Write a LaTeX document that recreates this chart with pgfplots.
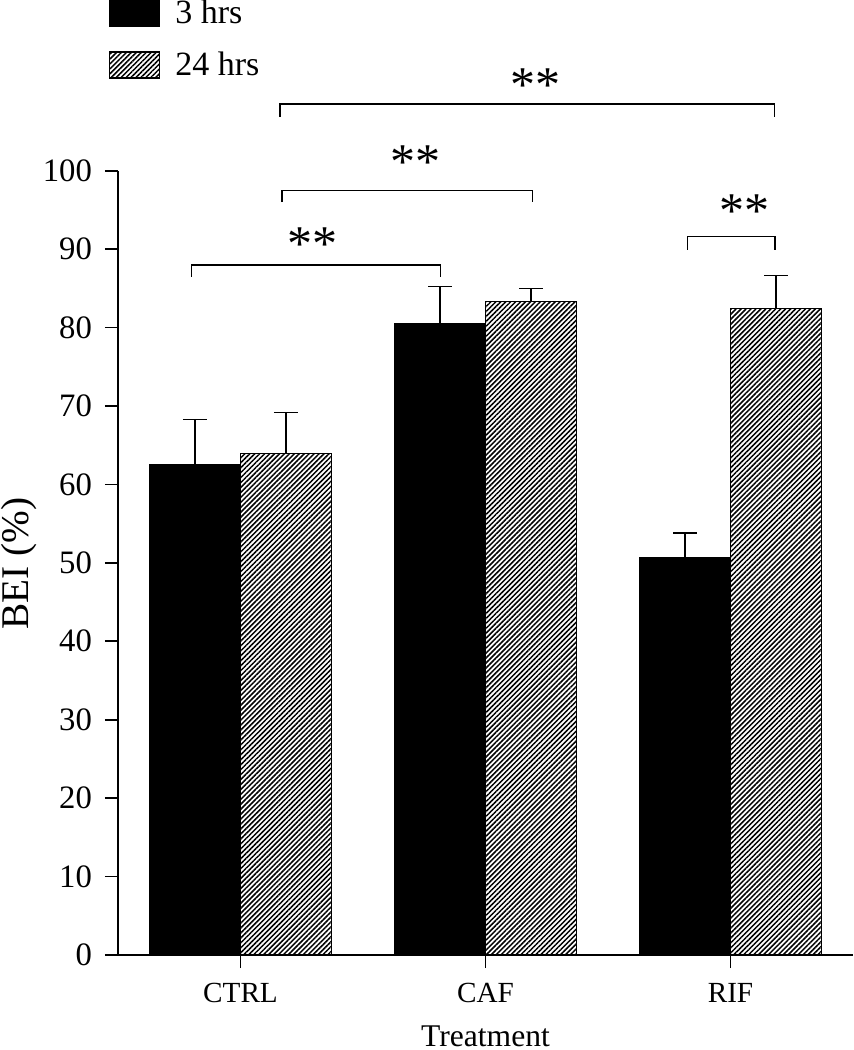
\documentclass[border=0pt]{standalone}
\usepackage{fontspec}
\setmainfont{Liberation Serif}
\usepackage{pgfplots}
\pgfplotsset{compat=1.18}
\usetikzlibrary{patterns.meta}

\tikzset{hatch/.style={pattern={Lines[angle=45,distance=1.75pt,line width=0.75pt]}, pattern color=black}}

\begin{document}
\begin{tikzpicture}
\begin{axis}[
  scale only axis, width=367.5pt, height=392.15pt,
  xmin=-0.5, xmax=2.5, ymin=0, ymax=100,
  ybar, bar width=45.5pt,
  axis x line*=bottom, axis y line*=left,
  axis line style={line width=0.9pt, -},
  xtick={0,1,2}, xticklabels={CTRL,CAF,RIF},
  ytick={0,10,...,100},
  tick align=outside,
  major tick length=6.5pt,
  tick style={line width=0.9pt, black},
  /pgf/number format/assume math mode=true,
  yticklabel style={font=\fontsize{16.35}{18}\selectfont, xshift=-3pt},
  xticklabel style={font=\fontsize{14.6}{17}\selectfont, yshift=-4pt},
  xlabel={Treatment},
  xlabel style={font=\fontsize{15.8}{18}\selectfont, at={(axis description cs:0.5,0)}, anchor=base, yshift=-45.6pt},
  clip=false,
  legend style={at={(axis description cs:-0.0122,1.2177)}, anchor=north west, draw=none, fill=none,
    inner sep=0pt, outer sep=0pt, font=\fontsize{17}{20}\selectfont, row sep=12pt,
    nodes={inner sep=0pt}},
  legend cell align=left,
]
\addlegendimage{legend image code/.code={\draw[fill=black, draw=black, line width=0.65pt] (0pt,-6.5pt) rectangle (24.85pt,6.5pt); \path[draw=none, fill=none, pattern=none] (0pt,0pt) rectangle (32.85pt,0.01pt);}}
\addlegendentry{3 hrs}
\addlegendimage{legend image code/.code={\draw[hatch, draw=black, line width=0.65pt] (0pt,-6.5pt) rectangle (24.85pt,6.5pt); \path[draw=none, fill=none, pattern=none] (0pt,0pt) rectangle (32.85pt,0.01pt);}}
\addlegendentry{24 hrs}

% 3 hrs
\addplot[bar shift=-22.75pt, fill=black, draw=black, line width=0.65pt, forget plot,
  error bars/.cd, y dir=plus, y explicit,
  error bar style={line width=0.7pt, black},
  error mark options={rotate=90, line width=0.7pt, mark size=6pt, black}]
  coordinates {(0,62.5) +- (0,5.8) (1,80.5) +- (0,4.7) (2,50.7) +- (0,3.1)};
% 24 hrs
\addplot[bar shift=22.75pt, hatch, draw=black, line width=0.65pt, forget plot,
  error bars/.cd, y dir=plus, y explicit,
  error bar style={line width=0.7pt, black},
  error mark options={rotate=90, line width=0.7pt, mark size=6pt, black}]
  coordinates {(0,63.9) +- (0,5.3) (1,83.3) +- (0,1.7) (2,82.4) +- (0,4.2)};

% significance brackets
\draw[line width=0.75pt] (axis cs:0.161,106.9) -- (axis cs:0.161,108.5) -- (axis cs:2.179,108.5) -- (axis cs:2.179,106.9);
\draw[line width=0.75pt] (axis cs:0.170,96.0) -- (axis cs:0.170,97.5) -- (axis cs:1.192,97.5) -- (axis cs:1.192,96.0);
\draw[line width=0.75pt] (axis cs:-0.201,86.5) -- (axis cs:-0.201,88.0) -- (axis cs:0.817,88.0) -- (axis cs:0.817,86.5);
\draw[line width=0.75pt] (axis cs:1.825,89.9) -- (axis cs:1.825,91.6) -- (axis cs:2.182,91.6) -- (axis cs:2.182,89.9);
\node[font=\fontsize{25}{25}\selectfont, anchor=base, inner sep=0pt, yshift=-12.3pt] at (axis cs:1.206,112.0) {**};
\node[font=\fontsize{25}{25}\selectfont, anchor=base, inner sep=0pt, yshift=-12.3pt] at (axis cs:0.715,102.1) {**};
\node[font=\fontsize{25}{25}\selectfont, anchor=base, inner sep=0pt, yshift=-12.3pt] at (axis cs:0.293,91.7) {**};
\node[font=\fontsize{25}{25}\selectfont, anchor=base, inner sep=0pt, yshift=-12.3pt] at (axis cs:2.056,95.9) {**};
\end{axis}
\node[rotate=90, anchor=base, inner sep=0pt, font=\fontsize{19.6}{22}\selectfont] at (-44.75pt,195.75pt) {BEI (\%)};
\pgfresetboundingbox
\useasboundingbox (-59pt,-47.5pt) rectangle (367.5pt,477.5pt);
\end{tikzpicture}
\end{document}
